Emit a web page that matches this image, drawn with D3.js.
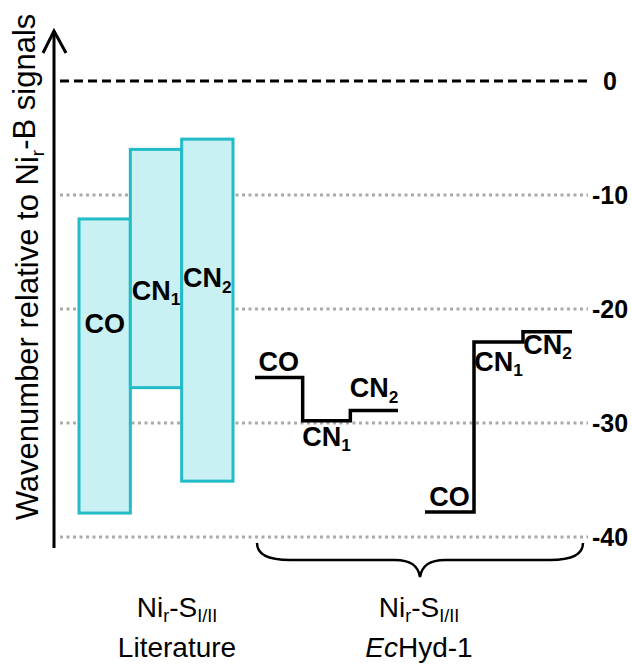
<!DOCTYPE html>
<html lang="en">
<head>
    <meta charset="UTF-8">
    <title>Wavenumber shifts</title>
    <script type="text/javascript" src="https://cdn.jsdelivr.net/npm/d3@7"></script>
    <style>
        body { margin: 0; background: #fff; }
        text { font-family: "Liberation Sans", Arial, sans-serif; }
    </style>
</head>
<body>
<script>
    // values relative to Ni_r-B (cm-1)
    var categories = ["CO", "CN1", "CN2"];
    var litTop = [-12.1, -6.0, -5.1];
    var litBottom = [-37.9, -26.9, -35.1];
    var litLabelY = [-22.1, -19.2, -18.1];
    var hydA = [-26.0, -29.8, -28.9];
    var hydB = [-37.8, -22.9, -22.0];
    var yTicks = [0, -10, -20, -30, -40];

    var w = 632, h = 666;
    var svg = d3.select("body").append("svg")
        .attr("width", w)
        .attr("height", h);

    var y = d3.scaleLinear().domain([0, -40]).range([81, 537]);
    var xLit = d3.scaleBand().domain(categories).range([79, 233]);
    var xA = d3.scaleBand().domain(categories).range([255, 398]);
    var xB = d3.scaleBand().domain(categories).range([425, 572]);

    // grid lines
    svg.append("g").selectAll("line")
        .data(yTicks)
        .enter()
        .append("line")
        .attr("x1", 60)
        .attr("x2", 588)
        .attr("y1", function(d) { return y(d); })
        .attr("y2", function(d) { return y(d); })
        .attr("stroke", function(d) { return d === 0 ? "#000" : "#aaa"; })
        .attr("stroke-width", 3)
        .attr("stroke-dasharray", function(d) { return d === 0 ? "9,5" : "3,3.5"; });

    svg.append("g").selectAll("text")
        .data(yTicks)
        .enter()
        .append("text")
        .text(function(d) { return d; })
        .attr("x", 610)
        .attr("y", function(d) { return y(d); })
        .attr("dy", "0.36em")
        .attr("text-anchor", "middle")
        .attr("font-size", "25px")
        .attr("font-weight", "bold");

    // literature ranges
    svg.append("g").selectAll("rect")
        .data(categories)
        .enter()
        .append("rect")
        .attr("x", function(d) { return xLit(d); })
        .attr("width", xLit.bandwidth())
        .attr("y", function(d, i) { return y(litTop[i]); })
        .attr("height", function(d, i) { return y(litBottom[i]) - y(litTop[i]); })
        .attr("fill", "#c9f1f3")
        .attr("stroke", "#22bcc8")
        .attr("stroke-width", 3);

    function addLabel(g, name, x, yy, size) {
        var t = g.append("text")
            .attr("x", x)
            .attr("y", yy)
            .attr("text-anchor", "middle")
            .attr("font-size", size + "px")
            .attr("font-weight", "bold");
        t.append("tspan").text(name.slice(0, 2));
        if (name.length > 2) {
            t.append("tspan").text(name.slice(2))
                .attr("font-size", (size * 0.64) + "px")
                .attr("dy", "0.3em");
        }
    }

    var labels = svg.append("g");
    categories.forEach(function(c, i) {
        addLabel(labels, c, xLit(c) + xLit.bandwidth() / 2, y(litLabelY[i]), 27);
    });

    // EcHyd-1 step lines
    function steps(x, vals) {
        var pts = [];
        categories.forEach(function(c, i) {
            pts.push([x(c), y(vals[i])]);
            pts.push([x(c) + x.bandwidth(), y(vals[i])]);
        });
        return pts;
    }
    var line = d3.line();
    [[xA, hydA], [xB, hydB]].forEach(function(s) {
        svg.append("path")
            .attr("d", line(steps(s[0], s[1])))
            .attr("fill", "none")
            .attr("stroke", "#000")
            .attr("stroke-width", 3.5);
    });

    // label offsets above (-) / below (+) each step
    var offA = [-6, 25, -13];
    var offB = [-6, 29, 22];
    categories.forEach(function(c, i) {
        addLabel(labels, c, xA(c) + xA.bandwidth() / 2, y(hydA[i]) + offA[i], 27);
        addLabel(labels, c, xB(c) + xB.bandwidth() / 2, y(hydB[i]) + offB[i], 27);
    });

    // y axis with open arrow
    svg.append("line")
        .attr("x1", 54).attr("x2", 54)
        .attr("y1", 548).attr("y2", 31)
        .attr("stroke", "#000").attr("stroke-width", 3);
    svg.append("path")
        .attr("d", "M43,53 L54,31 L66,53")
        .attr("fill", "none")
        .attr("stroke", "#000")
        .attr("stroke-width", 3);

    var yl = svg.append("text")
        .attr("transform", "translate(38,267) rotate(-90)")
        .attr("text-anchor", "middle")
        .attr("font-size", "31px");
    yl.append("tspan").text("Wavenumber relative to Ni");
    yl.append("tspan").text("r").attr("font-size", "19px").attr("dy", "0.3em");
    yl.append("tspan").text("-B signals").attr("dy", "-0.28em");

    // brace
    svg.append("path")
        .attr("d", "M257,543 C257,556 270,560 290,560 L395,560 C410,560 418,565 420,577"
            + " C422,565 430,560 445,560 L550,560 C570,560 583,556 583,543")
        .attr("fill", "none")
        .attr("stroke", "#000")
        .attr("stroke-width", 2.5);

    // group labels
    function groupLabel(cx, second, italicPart) {
        var t = svg.append("text")
            .attr("x", cx).attr("y", 617)
            .attr("text-anchor", "middle")
            .attr("font-size", "28px");
        t.append("tspan").text("Ni");
        t.append("tspan").text("r").attr("font-size", "18px").attr("dy", "0.3em");
        t.append("tspan").text("-S").attr("dy", "-0.19em");
        t.append("tspan").text("I/II").attr("font-size", "18px").attr("dy", "0.3em");
        var t2 = svg.append("text")
            .attr("x", cx).attr("y", 657)
            .attr("text-anchor", "middle")
            .attr("font-size", "28px");
        if (italicPart) t2.append("tspan").text(italicPart).attr("font-style", "italic");
        t2.append("tspan").text(second);
    }
    groupLabel(177, "Literature");
    groupLabel(419, "Hyd-1", "Ec");
</script>
</body>
</html>
